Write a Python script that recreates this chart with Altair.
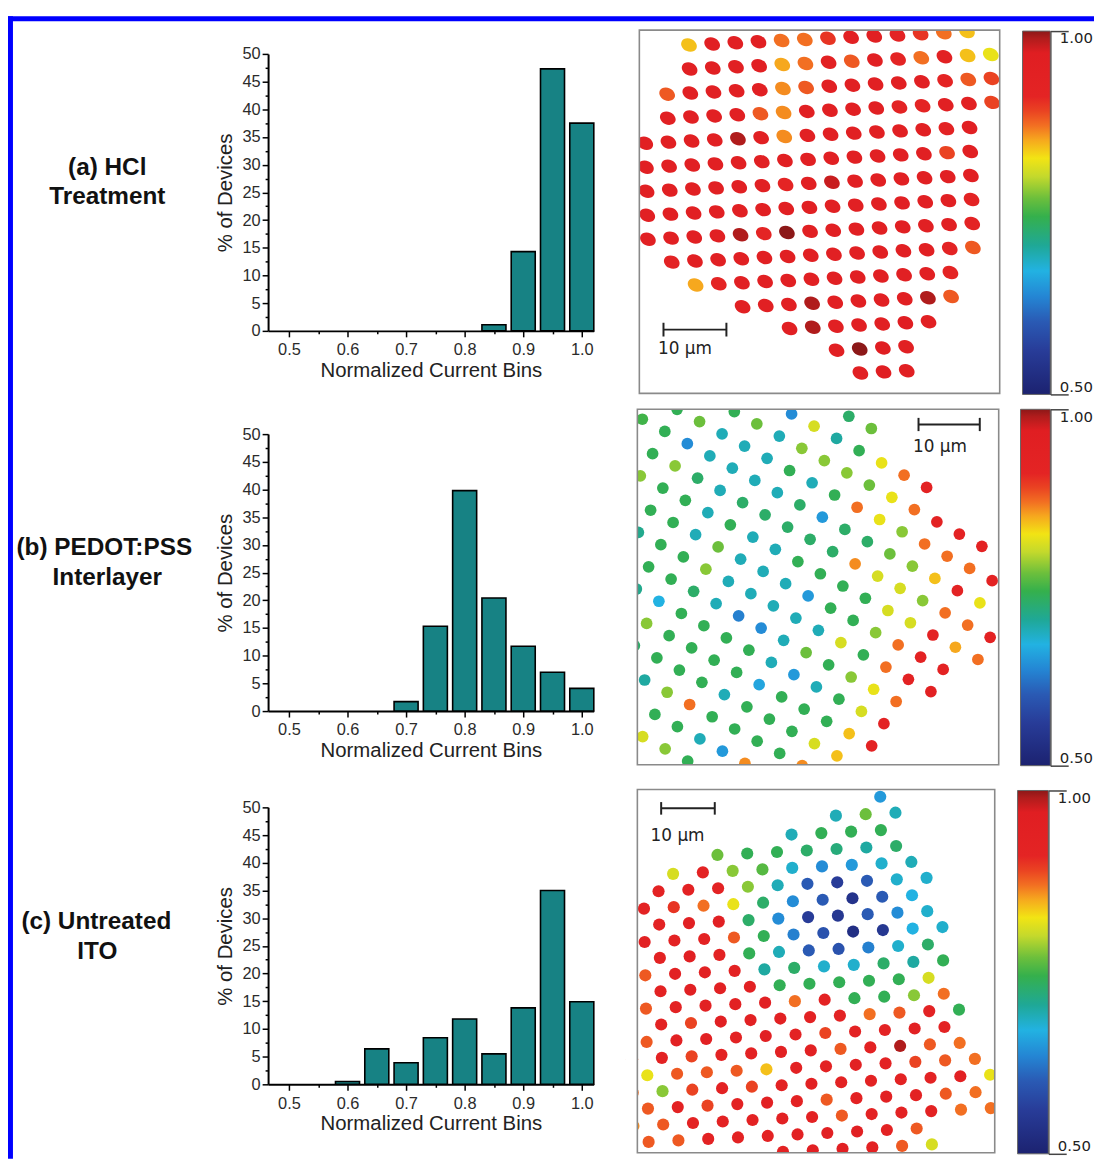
import altair as alt
import pandas as pd

# ------------------------------------------------------------------ data
BINS = [0.50, 0.55, 0.60, 0.65, 0.70, 0.75, 0.80, 0.85, 0.90, 0.95, 1.00]
PCT_A = [0, 0, 0, 0, 0, 0, 0, 1.1, 14.3, 47.3, 37.5]
PCT_B = [0, 0, 0, 0, 1.7, 15.3, 39.8, 20.4, 11.7, 7.0, 4.1]
PCT_C = [0, 0, 0.5, 6.4, 3.9, 8.4, 11.8, 5.5, 13.8, 35.0, 14.9]

X_TICKS = [0.5, 0.55, 0.6, 0.65, 0.7, 0.75, 0.8, 0.85, 0.9, 0.95, 1.0]
Y_TICKS = [0, 2.5, 5, 7.5, 10, 12.5, 15, 17.5, 20, 22.5, 25, 27.5, 30,
           32.5, 35, 37.5, 40, 42.5, 45, 47.5, 50]

ROW_LABELS = [["(a) HCl", "Treatment"],
              ["(b) PEDOT:PSS", "Interlayer"],
              ["(c) Untreated", "ITO"]]

CMAP_VALUES = [0.50, 0.56, 0.60, 0.635, 0.67, 0.705, 0.745, 0.77, 0.80,
               0.825, 0.85, 0.87, 0.89, 0.91, 0.97, 0.99, 1.00]
CMAP_COLORS = ["#1c2270", "#283c98", "#2a5ab4", "#2486d4", "#22b2e2",
               "#1fa896", "#35b04c", "#6cbf3c", "#c4d92c", "#f2e414",
               "#f6a81e", "#f26f22", "#ea4322", "#e42424", "#e01e22",
               "#b01c1c", "#8c1818"]

# device maps: row index -> (first column index, normalized currents)
MAP_A = {
    1: (2, [0.84, 0.95, 0.95, 0.95, 0.87, 0.87, 0.90, 0.94, 0.95, 0.92, 0.90, 0.87, 0.84]),
    2: (2, [0.95, 0.95, 0.95, 0.95, 0.85, 0.87, 0.94, 0.88, 0.95, 0.91, 0.87, 0.94, 0.84, 0.82]),
    3: (1, [0.88, 0.95, 0.95, 0.95, 0.95, 0.86, 0.88, 0.95, 0.95, 0.95, 0.95, 0.95, 0.91, 0.88, 0.89]),
    4: (1, [0.95, 0.95, 0.95, 0.95, 0.88, 0.86, 0.95, 0.95, 0.95, 0.95, 0.92, 0.91, 0.95, 0.94, 0.89]),
    5: (0, [0.95, 0.95, 0.95, 0.95, 0.99, 0.95, 0.86, 0.95, 0.95, 0.95, 0.95, 0.95, 0.95, 0.92, 0.95]),
    6: (0, [0.95, 0.95, 0.95, 0.95, 0.95, 0.95, 0.95, 0.95, 0.95, 0.95, 0.95, 0.95, 0.95, 0.89, 0.95]),
    7: (0, [0.95, 0.95, 0.95, 0.95, 0.95, 0.95, 0.91, 0.95, 0.98, 0.95, 0.95, 0.95, 0.95, 0.95, 0.95]),
    8: (0, [0.95, 0.95, 0.95, 0.95, 0.95, 0.95, 0.95, 0.95, 0.95, 0.95, 0.95, 0.95, 0.95, 0.95, 0.92]),
    9: (0, [0.95, 0.95, 0.95, 0.95, 0.99, 0.91, 1.00, 0.95, 0.95, 0.95, 0.95, 0.95, 0.95, 0.95, 0.92]),
    10: (1, [0.92, 0.95, 0.95, 0.95, 0.95, 0.95, 0.95, 0.95, 0.95, 0.95, 0.95, 0.95, 0.92, 0.88]),
    11: (2, [0.85, 0.91, 0.95, 0.95, 0.95, 0.95, 0.95, 0.95, 0.95, 0.95, 0.95, 0.91]),
    12: (4, [0.95, 0.95, 0.95, 0.99, 0.95, 0.95, 0.95, 0.95, 0.99, 0.88]),
    13: (6, [0.95, 0.99, 0.95, 0.95, 0.95, 0.97, 0.95]),
    14: (8, [0.95, 1.00, 0.97, 0.95]),
    15: (9, [0.95, 0.97, 0.95]),
}
MAP_B = {
    -1: (-4, [0.73, 0.77]),
    0: (-6, [0.64, 0.81, 0.70, 0.74, 0.82, 0.87, 0.93]),
    1: (-8, [0.74, 0.77, 0.69, 0.78, 0.78, 0.78, 0.77, 0.82, 0.87, 0.93, 0.93, 0.93]),
    2: (-10, [0.74, 0.77, 0.69, 0.69, 0.69, 0.74, 0.69, 0.74, 0.87, 0.82, 0.78, 0.87, 0.87, 0.87, 0.93]),
    3: (-11, [0.75, 0.74, 0.64, 0.69, 0.69, 0.69, 0.69, 0.73, 0.65, 0.73, 0.73, 0.77, 0.78, 0.84, 0.92, 0.82]),
    4: (-10, [0.74, 0.78, 0.73, 0.69, 0.73, 0.73, 0.73, 0.73, 0.73, 0.86, 0.81, 0.81, 0.78, 0.87, 0.87, 0.93]),
    5: (-10, [0.78, 0.74, 0.74, 0.69, 0.74, 0.69, 0.69, 0.74, 0.74, 0.74, 0.74, 0.81, 0.81, 0.93, 0.85, 0.87]),
    6: (-9, [0.74, 0.74, 0.69, 0.77, 0.69, 0.69, 0.69, 0.65, 0.74, 0.74, 0.78, 0.87, 0.93, 0.93]),
    7: (-9, [0.71, 0.74, 0.74, 0.78, 0.69, 0.69, 0.69, 0.69, 0.69, 0.81, 0.74, 0.87, 0.93, 0.94]),
    8: (-8, [0.74, 0.74, 0.73, 0.69, 0.63, 0.64, 0.69, 0.77, 0.74, 0.78, 0.82, 0.87]),
    9: (-8, [0.71, 0.67, 0.74, 0.74, 0.74, 0.74, 0.69, 0.65, 0.69, 0.74, 0.81, 0.93]),
    10: (-7, [0.78, 0.74, 0.74, 0.74, 0.74, 0.66, 0.74, 0.74, 0.74, 0.84, 0.93]),
    11: (-7, [0.73, 0.74, 0.74, 0.74, 0.69, 0.74, 0.74, 0.74, 0.81, 0.84]),
    12: (-6, [0.70, 0.78, 0.87, 0.74, 0.74, 0.74, 0.74, 0.86]),
    13: (-5, [0.74, 0.74, 0.69, 0.65, 0.86]),
    14: (-5, [0.81, 0.78, 0.74]),
}
MAP_C = {
    0: (0, [0.65]),
    1: (-1, [0.69, 0.77, 0.69]),
    2: (-2, [0.69, 0.74, 0.74, 0.74]),
    3: (-4, [0.77, 0.74, 0.74, 0.73, 0.72, 0.70, 0.73]),
    4: (-5, [0.81, 0.93, 0.78, 0.76, 0.68, 0.64, 0.65, 0.68, 0.69]),
    5: (-5, [0.93, 0.93, 0.92, 0.78, 0.69, 0.60, 0.56, 0.60, 0.68, 0.68]),
    6: (-5, [0.93, 0.90, 0.87, 0.82, 0.73, 0.64, 0.60, 0.54, 0.60, 0.67]),
    7: (-4, [0.93, 0.95, 0.95, 0.73, 0.64, 0.56, 0.55, 0.60, 0.64, 0.68]),
    8: (-4, [0.94, 0.93, 0.93, 0.88, 0.74, 0.63, 0.59, 0.53, 0.55, 0.67, 0.68]),
    9: (-3, [0.93, 0.95, 0.93, 0.74, 0.69, 0.60, 0.59, 0.63, 0.68, 0.73]),
    10: (-3, [0.88, 0.94, 0.94, 0.93, 0.70, 0.73, 0.68, 0.68, 0.73, 0.70, 0.74]),
    11: (-2, [0.93, 0.95, 0.94, 0.94, 0.74, 0.74, 0.74, 0.74, 0.74, 0.81]),
    12: (-2, [0.88, 0.93, 0.94, 0.94, 0.95, 0.87, 0.93, 0.74, 0.74, 0.78, 0.87]),
    13: (-2, [0.88, 0.93, 0.89, 0.95, 0.94, 0.94, 0.93, 0.92, 0.87, 0.88, 0.92, 0.74]),
    14: (-1, [0.88, 0.94, 0.94, 0.93, 0.95, 0.93, 0.89, 0.93, 0.92, 0.94, 0.92]),
    15: (-1, [0.88, 0.93, 0.89, 0.93, 0.93, 0.94, 0.94, 0.88, 0.93, 0.99, 0.88, 0.87]),
    16: (0, [0.82, 0.88, 0.88, 0.88, 0.84, 0.93, 0.93, 0.94, 0.92, 0.89, 0.88, 0.87]),
    17: (0, [0.87, 0.78, 0.89, 0.93, 0.89, 0.93, 0.94, 0.93, 0.93, 0.93, 0.92, 0.94, 0.82]),
    18: (1, [0.88, 0.93, 0.89, 0.93, 0.94, 0.93, 0.88, 0.93, 0.94, 0.93, 0.88, 0.87]),
    19: (1, [0.86, 0.88, 0.93, 0.93, 0.93, 0.94, 0.93, 0.88, 0.93, 0.93, 0.93, 0.87, 0.87]),
    20: (2, [0.88, 0.88, 0.93, 0.93, 0.93, 0.94, 0.95, 0.95, 0.93, 0.88]),
    21: (7, [0.93, 0.95, 0.95, 0.93, 0.88, 0.81]),
}

# ------------------------------------------------------------------ layout / style
W, H = 1094, 1155
TEAL = "#178284"
FONT = "Liberation Sans"
SB_FONT = "DejaVu Sans"

# lattice geometry of each device map, in micrometres (origin, column step, row step)
GEOM_A = dict(origin=(0.422, -1.08), ecol=(3.704, -0.180), erow=(0.106, 3.836))
GEOM_B = dict(origin=(47.22, 12.75), ecol=(3.674, 1.999), erow=(-1.999, 3.620))
GEOM_C = dict(origin=(45.31, 1.358), ecol=(5.556, -0.278), erow=(-2.716, 3.247))

one = pd.DataFrame({"k": [0]})
cscale = alt.Scale(domain=CMAP_VALUES, range=CMAP_COLORS, interpolate="rgb")


def hist(vals, y0, y50):
    df = pd.DataFrame({"bin": BINS, "pct": vals})
    df = df[df["pct"] > 0]
    xs = alt.Scale(domain=[0.4644, 1.0203], range=[262, 590], nice=False, zero=False)
    ys = alt.Scale(domain=[0, 50], range=[y0, y50], nice=False)
    xaxis = alt.Axis(
        orient="bottom", offset=y0 - H, values=X_TICKS, grid=False,
        labelExpr="round(datum.value*100) % 10 == 0 ? format(datum.value, '.1f') : ''",
        tickSize={"condition": {"test": "round(datum.value*100) % 10 == 0", "value": 6}, "value": 3},
        tickColor="black", tickWidth=1.5, domainColor="black", domainWidth=2,
        labelFont=FONT, labelFontSize=16.5, labelColor="#2b2b2b", labelPadding=5,
        labelFlush=False, labelOverlap=False,
        title="Normalized Current Bins", titleFont=FONT, titleFontSize=20.5,
        titleFontWeight="normal", titleColor="#222", titlePadding=2)
    yaxis = alt.Axis(
        orient="left", offset=-262, values=Y_TICKS, grid=False,
        labelExpr="datum.value % 5 == 0 ? format(datum.value, 'd') : ''",
        tickSize={"condition": {"test": "datum.value % 5 == 0", "value": 6}, "value": 3},
        tickColor="black", tickWidth=1.5, domainColor="black", domainWidth=2,
        labelFont=FONT, labelFontSize=16.5, labelColor="#2b2b2b", labelPadding=2,
        labelOverlap=False,
        title="% of Devices", titleFont=FONT, titleFontSize=20.5,
        titleFontWeight="normal", titleColor="#222", titlePadding=6)
    return (
        alt.Chart(df)
        .transform_calculate(lo="datum.bin - 0.0205", hi="datum.bin + 0.0205")
        .mark_bar(fill=TEAL, stroke="black", strokeWidth=1.6)
        .encode(x=alt.X("lo:Q", scale=xs, axis=xaxis), x2="hi:Q",
                y=alt.Y("pct:Q", scale=ys, axis=yaxis), y2=alt.Y2(datum=0))
    )


def lattice_df(rows, geom, bw, bh, tol):
    recs = []
    ox, oy = geom["origin"]
    for r, (c0, vals) in rows.items():
        for n, v in enumerate(vals):
            c = c0 + n
            x = ox + c * geom["ecol"][0] + r * geom["erow"][0]
            y = oy + c * geom["ecol"][1] + r * geom["erow"][1]
            if -tol <= x <= bw + tol and -tol <= y <= bh + tol:
                recs.append({"x": x, "y": y, "v": v})
    return pd.DataFrame(recs)


def device_map(rows, geom, box, bw, bh, ppu, dot_kw, sb):
    x0, x1, y0, y1 = box
    sx = alt.Scale(domain=[0, bw], range=[x0, x1], nice=False, zero=False)
    sy = alt.Scale(domain=[0, bh], range=[y0, y1], nice=False, zero=False)
    df = lattice_df(rows, geom, bw, bh, 1.0)
    dots = alt.Chart(df).mark_point(filled=True, opacity=1, **dot_kw).encode(
        x=alt.X("x:Q", scale=sx, axis=None),
        y=alt.Y("y:Q", scale=sy, axis=None),
        color=alt.Color("v:Q", scale=cscale, legend=None))
    m = 6.0 / ppu
    mask = alt.Chart(one).mark_rect(fillOpacity=0, stroke="white", strokeWidth=12).encode(
        x=alt.X(datum=-m, scale=sx, axis=None), x2=alt.X2(datum=bw + m),
        y=alt.Y(datum=-m, scale=sy, axis=None), y2=alt.Y2(datum=bh + m))
    frame = alt.Chart(one).mark_rect(fillOpacity=0, stroke="#8a8a8a", strokeWidth=1.6).encode(
        x=alt.X(datum=0, scale=sx, axis=None), x2=alt.X2(datum=bw),
        y=alt.Y(datum=0, scale=sy, axis=None), y2=alt.Y2(datum=bh))
    sx1, sx2, sy_, cap, tx, ty = sb
    bar = alt.Chart(pd.DataFrame({"a": [sx1], "b": [sx2], "y": [sy_]})).mark_rule(
        color="#222", strokeWidth=2).encode(
        x=alt.X("a:Q", scale=sx, axis=None), x2="b:Q", y=alt.Y("y:Q", scale=sy, axis=None))
    caps = alt.Chart(pd.DataFrame({"x": [sx1, sx2], "y1": [sy_ - cap] * 2,
                                   "y2": [sy_ + cap] * 2})).mark_rule(
        color="#222", strokeWidth=2).encode(
        x=alt.X("x:Q", scale=sx, axis=None), y=alt.Y("y1:Q", scale=sy, axis=None), y2="y2:Q")
    txt = alt.Chart(pd.DataFrame({"x": [tx], "y": [ty], "t": ["10 µm"]})).mark_text(
        font=SB_FONT, fontSize=17, color="#222", align="center", baseline="middle").encode(
        x=alt.X("x:Q", scale=sx, axis=None), y=alt.Y("y:Q", scale=sy, axis=None), text="t:N")
    return alt.layer(dots, mask, frame, bar, caps, txt)


grad_stops = [alt.GradientStop(color=c, offset=round((1.0 - v) / 0.5, 4))
              for v, c in sorted(zip(CMAP_VALUES, CMAP_COLORS), reverse=True)]
GRAD = alt.LinearGradient(gradient="linear", stops=grad_stops, x1=0, x2=0, y1=0, y2=1)


def colorbar(x0, x1, ytop, ybot):
    sx = alt.Scale(domain=[0, 1], range=[x0, x1], nice=False, zero=False)
    sy = alt.Scale(domain=[0.5, 1.0], range=[ybot, ytop], nice=False, zero=False)
    ax = alt.Axis(orient="right", offset=x1 - W, values=[0.5, 1.0], format=".2f",
                  tickSize=18, tickColor="#444", tickWidth=1.5, domainColor="#444",
                  domainWidth=1.5, labelFlush=True, labelPadding=-9, labelFont=SB_FONT,
                  labelFontSize=15, labelColor="#222", grid=False, title=None)
    return alt.Chart(one).mark_rect(fill=GRAD, stroke="#666", strokeWidth=1).encode(
        x=alt.X(datum=0, scale=sx, axis=None), x2=alt.X2(datum=1),
        y=alt.Y(datum=0.5, scale=sy, axis=ax), y2=alt.Y2(datum=1.0))


def label(text, x, y):
    return alt.Chart(one).mark_text(text=text, font=FONT, fontWeight="bold", fontSize=24.5,
                                    align="center", baseline="middle", color="#111").encode(
        x=alt.value(x), y=alt.value(y))


def blue(x, x2, y, y2):
    return alt.Chart(one).mark_rect(color="#0000ff").encode(
        x=alt.value(x), x2=alt.value(x2), y=alt.value(y), y2=alt.value(y2))


layers = [
    hist(PCT_A, 321, 42),
    hist(PCT_B, 704, 425),
    hist(PCT_C, 1080, 801),
    device_map(MAP_A, GEOM_A, (636, 999, 18, 384), 57.62, 58.10, 6.3,
               dict(shape="M -1 0 A 1 0.78 0 1 1 1 0 A 1 0.78 0 1 1 -1 0 Z", size=270, angle=25),
               (3.86, 13.92, 47.9, 1.1, 7.3, 51.0)),
    device_map(MAP_B, GEOM_B, (634, 998, 400, 758), 58.99, 58.02, 6.17,
               dict(shape="circle", size=139),
               (45.9, 55.9, 2.48, 1.08, 49.4, 6.1)),
    device_map(MAP_C, GEOM_C, (634, 994, 783, 1149), 66.67, 67.78, 5.4,
               dict(shape="circle", size=150),
               (4.44, 14.44, 3.52, 1.17, 7.5, 8.7)),
    colorbar(1022, 1050, 19, 385),
    colorbar(1020, 1050, 400, 759),
    colorbar(1017, 1048, 784, 1150),
    label(ROW_LABELS[0][0], 100, 157), label(ROW_LABELS[0][1], 100, 186),
    label(ROW_LABELS[1][0], 97, 540), label(ROW_LABELS[1][1], 100, 570),
    label(ROW_LABELS[2][0], 89, 917), label(ROW_LABELS[2][1], 90, 947),
    blue(0, W, 4, 9),
    blue(0, 5, 4, H),
]

chart = (
    alt.layer(*layers)
    .resolve_scale(x="independent", y="independent")
    .properties(width=W, height=H, autosize=alt.AutoSizeParams(type="none"), padding=0)
    .configure_view(stroke=None)
)

chart.save("out.html", embed_options={"renderer": "svg", "actions": False})
